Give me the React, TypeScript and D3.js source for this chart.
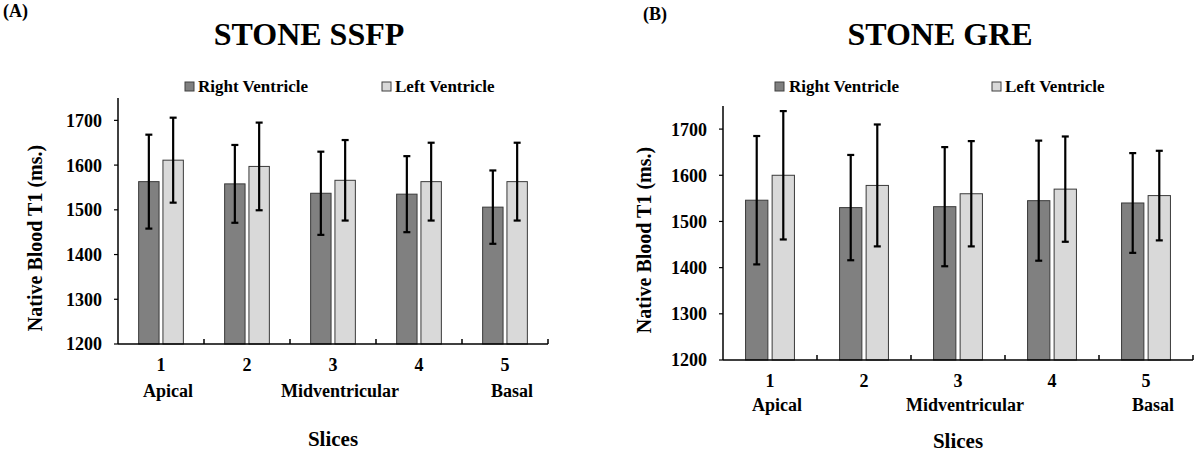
import React from 'react';
import * as d3 from 'd3';

// ---- data ----
const slices = ['1', '2', '3', '4', '5'];
const seriesNames = ['Right Ventricle', 'Left Ventricle'];
const regionLabels = ['Apical', 'Midventricular', 'Basal'];
const regionSlices = ['1', '3', '5'];
const yTicks = [1200, 1300, 1400, 1500, 1600, 1700];

const ssfpRV = [1563, 1558, 1537, 1535, 1506];
const ssfpRVsd = [105, 87, 93, 85, 82];
const ssfpLV = [1611, 1597, 1566, 1563, 1563];
const ssfpLVsd = [95, 98, 90, 87, 87];

const greRV = [1546, 1530, 1532, 1545, 1540];
const greRVsd = [139, 114, 129, 130, 108];
const greLV = [1600, 1578, 1560, 1570, 1556];
const greLVsd = [139, 132, 114, 114, 97];

const FILLS = ['#808080', '#d9d9d9'];
const FONT = '"Liberation Serif", "Times New Roman", serif';

type PanelCfg = {
  tag: string;
  tagX: number;
  tagY: number;
  title: string;
  titleX: number;
  titleY: number;
  x0: number;
  x1: number;
  yTop: number;
  yBot: number;
  legendSq: number[];
  legendTx: number[];
  legendY: number;
  yLabelX: number;
  yLabelY: number;
  tickLabelDy: number;
  regionDy: number;
  slicesY: number;
  values: number[][];
  sds: number[][];
};

const panels: PanelCfg[] = [
  {
    tag: '(A)', tagX: 3, tagY: 17,
    title: 'STONE SSFP', titleX: 309, titleY: 45,
    x0: 118, x1: 548, yTop: 98, yBot: 344,
    legendSq: [185, 382], legendTx: [198, 395], legendY: 92,
    yLabelX: 42, yLabelY: 238,
    tickLabelDy: 27, regionDy: 53, slicesY: 446,
    values: [ssfpRV, ssfpLV], sds: [ssfpRVsd, ssfpLVsd],
  },
  {
    tag: '(B)', tagX: 643, tagY: 20,
    title: 'STONE GRE', titleX: 940, titleY: 45,
    x0: 723, x1: 1193, yTop: 106, yBot: 360,
    legendSq: [775, 992], legendTx: [789, 1005], legendY: 92,
    yLabelX: 651, yLabelY: 240,
    tickLabelDy: 27, regionDy: 51, slicesY: 448,
    values: [greRV, greLV], sds: [greRVsd, greLVsd],
  },
];

function Panel({ p }: { p: PanelCfg }) {
  const x = d3.scaleBand<string>().domain(slices).range([p.x0, p.x1]).padding(0);
  const bw = x.bandwidth();
  const xi = d3
    .scaleBand<string>()
    .domain(seriesNames)
    .range([0.24 * bw, 0.76 * bw])
    .paddingInner(0.16);
  const y = d3.scaleLinear().domain([1200, 1750]).range([p.yBot, p.yTop]);
  const capW = 3.5;

  return (
    <g>
      <text x={p.tagX} y={p.tagY} fontSize={18} fontWeight="bold" fontFamily={FONT}>
        {p.tag}
      </text>
      <text x={p.titleX} y={p.titleY} fontSize={32} fontWeight="bold" fontFamily={FONT} textAnchor="middle">
        {p.title}
      </text>
      {/* legend */}
      {seriesNames.map((s, i) => (
        <g key={s}>
          <rect x={p.legendSq[i]} y={p.legendY - 10} width={9} height={9} fill={FILLS[i]} stroke="#404040" strokeWidth={1} />
          <text x={p.legendTx[i]} y={p.legendY} fontSize={17} fontWeight="bold" fontFamily={FONT}>
            {s}
          </text>
        </g>
      ))}
      {/* bars */}
      {slices.map((c, ci) => (
        <g key={c} transform={`translate(${x(c)},0)`}>
          {seriesNames.map((s, si) => {
            const v = p.values[si][ci];
            const sd = p.sds[si][ci];
            const bx = xi(s) as number;
            const w = xi.bandwidth();
            const cx = bx + w / 2;
            return (
              <g key={s}>
                <rect x={bx} y={y(v)} width={w} height={y(1200) - y(v)} fill={FILLS[si]} stroke="#3a3a3a" strokeWidth={1} />
                <line x1={cx} x2={cx} y1={y(v + sd)} y2={y(v - sd)} stroke="#000" strokeWidth={2.2} />
                <line x1={cx - capW} x2={cx + capW} y1={y(v + sd)} y2={y(v + sd)} stroke="#000" strokeWidth={2.2} />
                <line x1={cx - capW} x2={cx + capW} y1={y(v - sd)} y2={y(v - sd)} stroke="#000" strokeWidth={2.2} />
              </g>
            );
          })}
        </g>
      ))}
      {/* y axis */}
      <line x1={p.x0} x2={p.x0} y1={y(1750)} y2={y(1200)} stroke="#000" strokeWidth={1.5} />
      {yTicks.map((t) => (
        <g key={t}>
          <line x1={p.x0 - 4} x2={p.x0} y1={y(t)} y2={y(t)} stroke="#000" strokeWidth={1.2} />
          <text x={p.x0 - 16} y={y(t)} dy="0.36em" textAnchor="end" fontSize={18} fontWeight="bold" fontFamily={FONT}>
            {t}
          </text>
        </g>
      ))}
      {/* x axis */}
      <line x1={p.x0} x2={p.x1} y1={y(1200)} y2={y(1200)} stroke="#000" strokeWidth={1.5} />
      {slices.map((c) => (
        <g key={c}>
          <line x1={(x(c) as number) + bw} x2={(x(c) as number) + bw} y1={y(1200)} y2={y(1200) - 5} stroke="#000" strokeWidth={1.5} />
          <text x={(x(c) as number) + bw / 2} y={y(1200) + p.tickLabelDy} textAnchor="middle" fontSize={18} fontWeight="bold" fontFamily={FONT}>
            {c}
          </text>
        </g>
      ))}
      {regionLabels.map((r, i) => (
        <text
          key={r}
          x={(x(regionSlices[i]) as number) + bw / 2 + 7}
          y={y(1200) + p.regionDy}
          textAnchor="middle"
          fontSize={18}
          fontWeight="bold"
          fontFamily={FONT}
        >
          {r}
        </text>
      ))}
      <text x={(p.x0 + p.x1) / 2} y={p.slicesY} textAnchor="middle" fontSize={21} fontWeight="bold" fontFamily={FONT}>
        Slices
      </text>
      <text
        transform={`translate(${p.yLabelX},${p.yLabelY}) rotate(-90)`}
        textAnchor="middle"
        fontSize={20}
        fontWeight="bold"
        fontFamily={FONT}
      >
        Native Blood T1 (ms.)
      </text>
    </g>
  );
}

export default function App() {
  return (
    <svg
      width={1200}
      height={454}
      viewBox="0 0 1200 454"
      style={{ position: 'absolute', left: 0, top: 0, background: '#fff' }}
    >
      <rect x={0} y={0} width={1200} height={454} fill="#fff" />
      {panels.map((p) => (
        <Panel key={p.tag} p={p} />
      ))}
    </svg>
  );
}
